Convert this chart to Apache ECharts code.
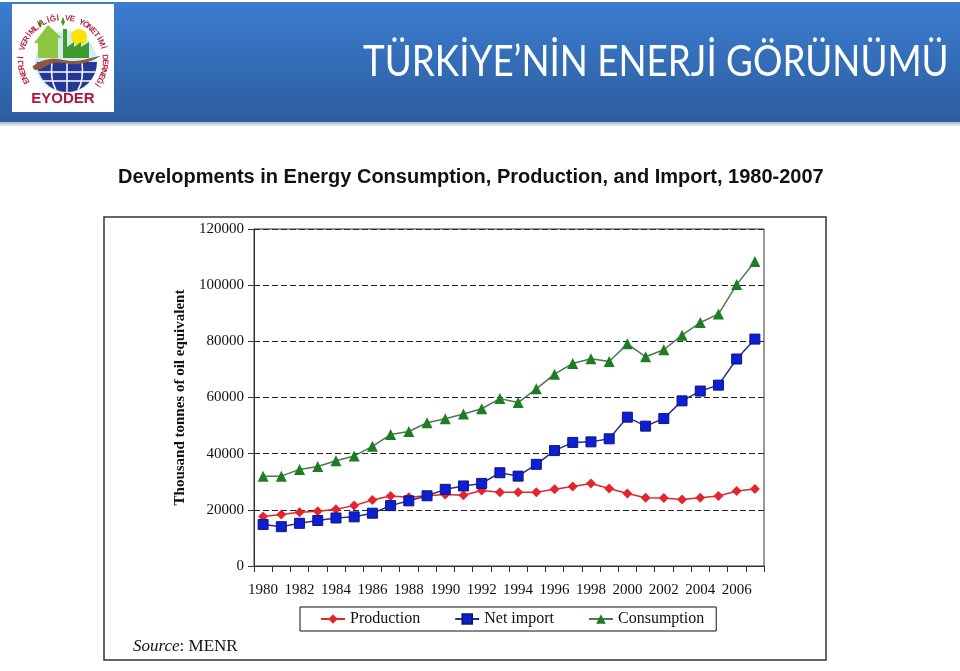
<!DOCTYPE html>
<html>
<head>
<meta charset="utf-8">
<title>Türkiye'nin Enerji Görünümü</title>
<script src="https://cdn.jsdelivr.net/npm/echarts@6/dist/echarts.min.js"></script>
<style>
  html, body { margin: 0; padding: 0; background: #fff; }
  #main { width: 960px; height: 671px; }
</style>
</head>
<body>
<div id="main"></div>
<script>
// categories
var years = ["1980", "1981", "1982", "1983", "1984", "1985", "1986", "1987", "1988", "1989",
  "1990", "1991", "1992", "1993", "1994", "1995", "1996", "1997", "1998", "1999",
  "2000", "2001", "2002", "2003", "2004", "2005", "2006", "2007"];

// thousand tonnes of oil equivalent
var production = [17600, 18300, 19100, 19500, 20200, 21500, 23500, 24900, 24500, 25000,
  25500, 25200, 26900, 26300, 26300, 26300, 27300, 28300, 29400, 27600,
  25800, 24300, 24200, 23700, 24300, 24900, 26700, 27400];
var netImport = [14800, 14000, 15200, 16200, 17100, 17500, 18800, 21500, 23200, 25000,
  27300, 28500, 29400, 33200, 32000, 36200, 41100, 44000, 44200, 45300,
  53000, 49800, 52500, 58800, 62300, 64400, 73700, 80800];
var consumption = [32000, 32000, 34400, 35400, 37500, 39200, 42600, 46800, 47900, 51000,
  52400, 54100, 56000, 59600, 58200, 63100, 68300, 72100, 73800, 72800,
  79100, 74500, 77000, 82200, 86700, 89700, 100200, 108400];

var seriesNames = ["Production", "Net import", "Consumption"];

var pageTitle = "TÜRKİYE’NİN ENERJİ GÖRÜNÜMÜ";
var chartTitle = "Developments in Energy Consumption, Production, and Import, 1980-2007";
var logoText = "ENERJİ VERİMLİLİĞİ VE YÖNETİMİ DERNEĞİ";

var serif = "'Liberation Serif', 'DejaVu Serif', serif";

// curved logo text, one letter per element
function arcLetters() {
  var cx = 63, cy = 60, r = 42;
  var start = 150, end = 396;
  var step = (end - start) / (logoText.length - 1);
  var out = [];
  for (var i = 0; i < logoText.length; i++) {
    var a = (start + i * step) * Math.PI / 180;
    out.push({
      type: "text",
      z: 4,
      x: cx + r * Math.cos(a),
      y: cy + r * Math.sin(a),
      rotation: -(a + Math.PI / 2),
      style: {
        text: logoText[i],
        x: 0, y: 0,
        align: "center",
        verticalAlign: "middle",
        font: "bold 8px 'Liberation Sans', Arial, sans-serif",
        fill: "#b8233f"
      }
    });
  }
  return out;
}

var logo = [
  { type: "rect", z: 2, shape: { x: 12, y: 4, width: 102, height: 108 }, style: { fill: "#fff" } },
  // sky
  { type: "circle", z: 3, shape: { cx: 66, cy: 62, r: 31 }, style: { fill: "#d3ebf7" } },
  // sun
  { type: "circle", z: 3, shape: { cx: 79, cy: 37, r: 8 }, style: { fill: "#ffe200" } },
  // house
  { type: "polygon", z: 3, shape: { points: [[34, 43], [48, 25], [62, 38], [58, 38], [58, 58], [38, 58], [38, 43]] },
    style: { fill: "#8dc63f" } },
  // factory
  { type: "polygon", z: 3, shape: { points: [[63, 29], [67, 29], [67, 47], [74, 42], [74, 47], [81, 42], [81, 47], [89, 42], [89, 58], [63, 58]] },
    style: { fill: "#3f9a2c" } },
  // leaves
  { type: "polygon", z: 3, shape: { points: [[40, 19], [42, 24], [40, 28], [38, 24]] }, style: { fill: "#3f9a2c" } },
  { type: "polygon", z: 3, shape: { points: [[63, 17], [65, 22], [63, 26], [61, 22]] }, style: { fill: "#3f9a2c" } },
  // globe
  { type: "sector", z: 3, shape: { cx: 67, cy: 62, r0: 0, r: 30, startAngle: 0, endAngle: Math.PI }, style: { fill: "#263896" } },
  { type: "line", z: 4, shape: { x1: 39, y1: 72, x2: 95, y2: 72 }, style: { stroke: "#fff", lineWidth: 1.5 } },
  { type: "line", z: 4, shape: { x1: 43, y1: 81, x2: 91, y2: 81 }, style: { stroke: "#fff", lineWidth: 1.5 } },
  { type: "line", z: 4, shape: { x1: 67, y1: 62, x2: 67, y2: 92 }, style: { stroke: "#fff", lineWidth: 1.5 } },
  { type: "bezierCurve", z: 4, shape: { x1: 52, y1: 62, x2: 56, y2: 90, cpx1: 50, cpy1: 80 }, style: { stroke: "#fff", lineWidth: 1.5, fill: null } },
  { type: "bezierCurve", z: 4, shape: { x1: 82, y1: 62, x2: 78, y2: 90, cpx1: 84, cpy1: 80 }, style: { stroke: "#fff", lineWidth: 1.5, fill: null } },
  // brown swoosh
  { type: "polygon", z: 5, shape: { smooth: 0.4, points: [[33, 66], [50, 59], [75, 61], [100, 56], [80, 64], [55, 63], [36, 70]] },
    style: { fill: "#8a5a3b" } },
  { type: "text", z: 5, style: { text: "EYODER", x: 63, y: 99, align: "center", verticalAlign: "middle",
    font: "bold 15px 'Liberation Sans', Arial, sans-serif", fill: "#b0163c" } }
].concat(arcLetters());

var chart = echarts.init(document.getElementById("main"));

var option = {
  animation: false,
  backgroundColor: "#fff",
  graphic: [
    // header band
    { type: "rect", z: 0, shape: { x: 0, y: 121, width: 960, height: 6 },
      style: { fill: new echarts.graphic.LinearGradient(0, 0, 0, 1, [
        { offset: 0, color: "#9aa3ad" }, { offset: 1, color: "#ffffff" }]) } },
    { type: "rect", z: 1, shape: { x: 0, y: 2, width: 960, height: 120 },
      style: { fill: new echarts.graphic.LinearGradient(0, 0, 0, 1, [
        { offset: 0, color: "#3c7dd0" }, { offset: 1, color: "#2c5d9e" }]) } }
  ].concat(logo).concat([
    { type: "text", z: 2, x: 363, y: 84, scaleX: 0.855, scaleY: 1,
      style: { text: pageTitle, x: 0, y: 0, align: "left", verticalAlign: "bottom",
        font: "43px Lato, 'Open Sans', sans-serif", fill: "#fff" } },
    // chart title
    { type: "text", z: 2, style: { text: chartTitle, x: 118, y: 177, align: "left", verticalAlign: "middle",
      font: "bold 20px 'Liberation Sans', Arial, sans-serif", fill: "#111" } },
    // frame round the chart
    { type: "rect", z: 0, shape: { x: 104, y: 217, width: 722, height: 443 },
      style: { fill: "#fff", stroke: "#333", lineWidth: 1.5 } },
    { type: "text", z: 2, style: {
      text: "{i|Source}: MENR", x: 133, y: 647, align: "left", verticalAlign: "middle",
      rich: { i: { fontStyle: "italic", fontFamily: serif, fontSize: 17, fill: "#111" } },
      font: "17px " + serif, fill: "#111" } }
  ]),
  grid: {
    left: 254,
    right: 196,
    top: 229,
    bottom: 105,
    show: true,
    borderColor: "#333",
    borderWidth: 1,
    z: 3
  },
  legend: {
    data: seriesNames,
    left: 300,
    top: 607,
    padding: [4, 12, 4, 20],
    itemGap: 34,
    itemWidth: 24,
    itemHeight: 12,
    backgroundColor: "#fff",
    borderColor: "#111",
    borderWidth: 1,
    textStyle: { fontFamily: serif, fontSize: 16, color: "#111" }
  },
  xAxis: {
    type: "category",
    data: years,
    boundaryGap: true,
    axisLine: { lineStyle: { color: "#333", width: 1 } },
    axisTick: { show: true, interval: 0, length: 6, lineStyle: { color: "#333" } },
    axisLabel: {
      interval: 1,
      margin: 17,
      fontFamily: serif,
      fontSize: 15,
      color: "#111"
    },
    splitLine: { show: false }
  },
  yAxis: {
    type: "value",
    min: 0,
    max: 120000,
    interval: 20000,
    name: "Thousand tonnes of oil equivalent",
    nameLocation: "middle",
    nameGap: 62,
    nameTextStyle: { fontFamily: serif, fontSize: 15, fontWeight: "bold", color: "#111" },
    axisLine: { show: true, lineStyle: { color: "#333", width: 1 } },
    axisTick: { show: true, length: 6, lineStyle: { color: "#333" } },
    axisLabel: {
      margin: 10,
      fontFamily: serif,
      fontSize: 15,
      color: "#111",
      formatter: function (v) { return String(v); }
    },
    splitLine: { show: true, lineStyle: { color: "#222", type: [6, 3], width: 1 } }
  },
  series: [
    {
      name: seriesNames[0],
      type: "line",
      data: production,
      symbol: "diamond",
      symbolSize: 10,
      z: 4,
      lineStyle: { color: "#e3262d", width: 1.5 },
      itemStyle: { color: "#e3262d" }
    },
    {
      name: seriesNames[1],
      type: "line",
      data: netImport,
      symbol: "rect",
      symbolSize: 10,
      z: 5,
      lineStyle: { color: "#2b2c8c", width: 1.5 },
      itemStyle: { color: "#0b1fd6", borderColor: "#15176e", borderWidth: 1 }
    },
    {
      name: seriesNames[2],
      type: "line",
      data: consumption,
      symbol: "triangle",
      symbolSize: 11,
      z: 6,
      lineStyle: { color: "#4d7a4d", width: 1.5 },
      itemStyle: { color: "#1d7d24" }
    }
  ]
};

chart.setOption(option);
window.addEventListener("resize", function () {
  chart.resize();
});
</script>
</body>
</html>
